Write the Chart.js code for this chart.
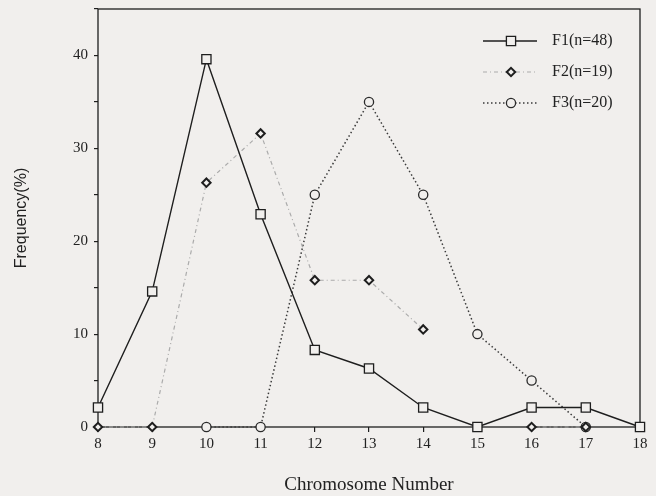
<!DOCTYPE html>
<html>
<head>
<meta charset="utf-8">
<script src="https://cdn.jsdelivr.net/npm/chart.js@4/dist/chart.umd.min.js"></script>
<style>
  html, body { margin: 0; padding: 0; background: #f1efed; }
  #wrap { width: 656px; height: 496px; position: relative; }
</style>
</head>
<body>
<div id="wrap"><canvas id="c" width="656" height="496"></canvas></div>
<script>
/* Chromosome number frequency for three generations */

const chromosomes = [8, 9, 10, 11, 12, 13, 14, 15, 16, 17, 18];
const f1Values = [2.1, 14.6, 39.6, 22.9, 8.3, 6.3, 2.1, 0, 2.1, 2.1, 0];
const f2Values = [0, 0, 26.3, 31.6, 15.8, 15.8, 10.5, null, 0, 0, null];
const f3Values = [null, null, 0, 0, 25, 35, 25, 10, 5, 0, null];
const seriesNames = ['F1(n=48)', 'F2(n=19)', 'F3(n=20)'];
const yTicks = [0, 10, 20, 30, 40];

const BG = '#f1efed';
const SERIF = '"Liberation Serif", "DejaVu Serif", serif';
const SANS = '"Liberation Sans", Arial, sans-serif';

const toPts = (vals) => chromosomes.map((x, i) => ({ x, y: vals[i] }));

const datasets = [
  {
    label: seriesNames[0], data: toPts(f1Values),
    borderColor: '#1e1e1e', borderWidth: 1.4,
    pointStyle: 'rect', pointRadius: 6.5, pointBorderWidth: 1.3,
    pointBackgroundColor: BG, pointBorderColor: '#1e1e1e', order: 1,
  },
  {
    label: seriesNames[1], data: toPts(f2Values),
    borderColor: '#ababab', borderWidth: 1.2, borderDash: [4, 3, 1, 3],
    pointStyle: 'rectRot', pointRadius: 4.2, pointBorderWidth: 2,
    pointBackgroundColor: BG, pointBorderColor: '#1e1e1e', order: 2,
  },
  {
    label: seriesNames[2], data: toPts(f3Values),
    borderColor: '#3a3a3a', borderWidth: 1.5, borderDash: [1.5, 2.5],
    pointStyle: 'circle', pointRadius: 4.6, pointBorderWidth: 1.3,
    pointBackgroundColor: BG, pointBorderColor: '#2a2a2a', order: 3,
  },
];

// frame around the plot area plus a legend with a line sample and the marker in the middle
const frame = {
  id: 'frame',
  beforeDatasetsDraw(chart) {
    const { ctx, chartArea: a } = chart;
    ctx.save();
    ctx.strokeStyle = '#1e1e1e';
    ctx.lineWidth = 1.3;
    ctx.strokeRect(a.left, a.top, a.right - a.left, a.bottom - a.top);
    ctx.restore();
  },
  afterDraw(chart) {
    const ctx = chart.ctx;
    const rows = [41, 72, 103];
    ctx.save();
    chart.data.datasets.forEach((ds, i) => {
      const y = rows[i];
      ctx.strokeStyle = ds.borderColor;
      ctx.lineWidth = ds.borderWidth;
      ctx.setLineDash(ds.borderDash || []);
      ctx.beginPath();
      ctx.moveTo(483, y); ctx.lineTo(537, y);
      ctx.stroke();
      ctx.setLineDash([]);
      ctx.fillStyle = ds.pointBackgroundColor;
      ctx.strokeStyle = ds.pointBorderColor;
      ctx.lineWidth = ds.pointBorderWidth;
      Chart.helpers.drawPoint(ctx, { pointStyle: ds.pointStyle, radius: ds.pointRadius, borderWidth: ds.pointBorderWidth }, 511, y);
      ctx.fillStyle = '#222';
      ctx.font = '16px ' + SERIF;
      ctx.textBaseline = 'middle';
      ctx.fillText(ds.label, 552, y);
    });
    ctx.restore();
  },
};

new Chart(document.getElementById('c'), {
  type: 'line',
  data: { datasets },
  plugins: [frame],
  options: {
    responsive: false, animation: false,
    layout: { padding: { top: 9, right: 16, left: 0, bottom: 0 } },
    plugins: { legend: { display: false }, tooltip: { enabled: false } },
    elements: { line: { tension: 0 } },
    datasets: { line: { clip: false, spanGaps: false } },
    scales: {
      x: {
        type: 'linear', min: 8, max: 18,
        afterFit: (s) => { s.height = 69; s.paddingLeft = 0; s.paddingRight = 0; },
        border: { display: false },
        grid: { drawOnChartArea: false, tickLength: 5, color: '#1e1e1e', lineWidth: 1.2 },
        ticks: { stepSize: 1, color: '#222', padding: 3, font: { family: SERIF, size: 15 } },
        title: { display: true, text: 'Chromosome Number', color: '#222', padding: { top: 18, bottom: 0 }, font: { family: SERIF, size: 19 } },
      },
      y: {
        min: 0, max: 45,
        afterFit: (s) => { s.width = 98; s.paddingTop = 0; s.paddingBottom = 0; },
        border: { display: false },
        grid: { drawOnChartArea: false, tickLength: 4, color: '#1e1e1e', lineWidth: 1.2 },
        ticks: {
          stepSize: 5, color: '#222', padding: 6, font: { family: SERIF, size: 15 },
          callback: (v) => (yTicks.includes(v) ? String(v) : ''),
        },
        title: { display: true, text: 'Frequency(%)', color: '#222', padding: { top: 12, bottom: 0 }, font: { family: SANS, size: 16 } },
      },
    },
  },
});
</script>
</body>
</html>
